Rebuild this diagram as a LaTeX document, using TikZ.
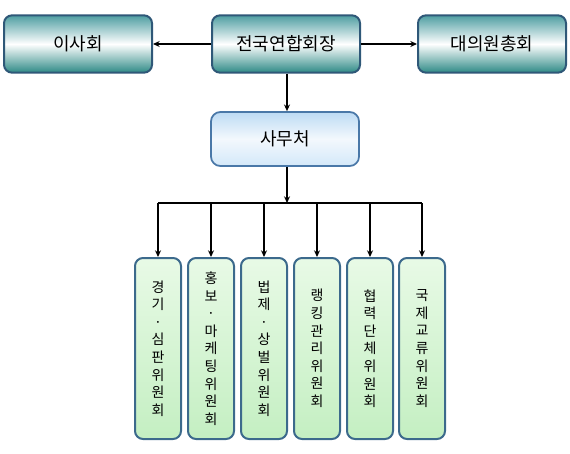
\documentclass[tikz,border=0pt]{standalone}
\usepackage{fontspec}
\setmainfont{Noto Sans CJK KR}
\usetikzlibrary{arrows.meta}
\definecolor{tealA}{HTML}{4F9EA2}
\definecolor{tealB}{HTML}{2E8A86}
\definecolor{bordA}{HTML}{2F5878}
\definecolor{blueT}{HTML}{BDDBF4}
\definecolor{blueM}{HTML}{F3F8FD}
\definecolor{blueB}{HTML}{D3E8F9}
\definecolor{bordB}{HTML}{4A78A8}
\definecolor{greenT}{HTML}{E8FAE6}
\definecolor{greenB}{HTML}{C4EFC2}
\definecolor{bordC}{HTML}{3C6A8C}
\tikzset{
  topbox/.style={draw=bordA, line width=1.5pt, rounded corners=6pt,
    top color=tealA, bottom color=tealB, middle color=white,
    minimum width=111pt, minimum height=43pt, inner sep=0pt,
    font=\fontsize{13.5}{16}\selectfont},
  officebox/.style={draw=bordB, line width=1.3pt, rounded corners=7pt,
    top color=blueT, bottom color=blueB, middle color=blueM,
    minimum width=111pt, minimum height=40.5pt, inner sep=0pt,
    font=\fontsize{13.5}{16}\selectfont},
  combox/.style={draw=bordC, line width=1.5pt, rounded corners=6pt,
    top color=greenT, bottom color=greenB,
    minimum width=34.5pt, minimum height=135.75pt, inner sep=0pt,
    align=center, font=\fontsize{10.5}{13.2}\selectfont},
  arr/.style={line width=1.1pt, -{Stealth[length=5pt,width=4.5pt]}},
  ln/.style={line width=1.1pt}
}
\begin{document}
\begin{tikzpicture}[x=0.75pt,y=-0.75pt]
\useasboundingbox (0,0) rectangle (570,453);
\node[topbox] (isa) at (78,44) {이사회};
\node[topbox] (pres) at (286,44) {전국연합회장};
\node[topbox] (daeui) at (492,44) {대의원총회};
\node[officebox] (office) at (285,139) {사무처};
\coordinate (bus) at (287,203);
\node[combox] (c1) at (158,348.5) {경\\기\\·\\심\\판\\위\\원\\회};
\node[combox] (c2) at (211,348.5) {홍\\보\\·\\마\\케\\팅\\위\\원\\회};
\node[combox] (c3) at (264,348.5) {법\\제\\·\\상\\벌\\위\\원\\회};
\node[combox] (c4) at (317,348.5) {랭\\킹\\관\\리\\위\\원\\회};
\node[combox] (c5) at (370,348.5) {협\\력\\단\\체\\위\\원\\회};
\node[combox] (c6) at (422,348.5) {국\\제\\교\\류\\위\\원\\회};
\draw[arr] (pres.west) -- (isa.east);
\draw[arr] (pres.east) -- (daeui.west);
\draw[arr] (pres.south -| bus) -- (office.north -| bus);
\draw[arr] (office.south -| bus) -- (bus);
\draw[ln] (bus -| c1.north) -- (bus -| c6.north);
\foreach \c in {c1,c2,c3,c4,c5,c6}{
  \draw[arr] (bus -| \c.north) -- (\c.north);
}
\end{tikzpicture}
\end{document}
